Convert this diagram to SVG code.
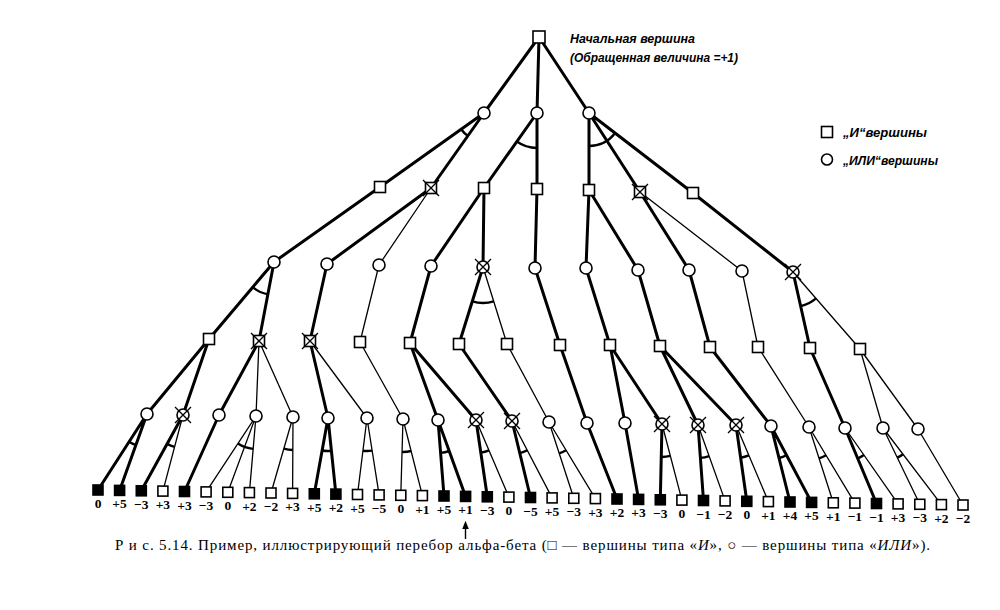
<svg xmlns="http://www.w3.org/2000/svg" width="1000" height="610" viewBox="0 0 1000 610">
<style>
.T{stroke:#000;stroke-width:3;fill:none;stroke-linecap:round}
.t{stroke:#000;stroke-width:1.3;fill:none}
.arc{stroke:#000;stroke-width:2.4;fill:none}
.n{fill:#fff;stroke:#000;stroke-width:1.6}
.f{fill:#000;stroke:#000;stroke-width:1.6}
.x{stroke:#000;stroke-width:1.3}
.v{font-family:"Liberation Serif",serif;font-size:13.5px;font-weight:bold;text-anchor:middle}
.lab{font-family:"Liberation Sans","DejaVu Sans",sans-serif;font-style:italic;font-weight:bold;font-size:12px}
.cap{font-family:"Liberation Serif","DejaVu Serif",serif;font-size:15px}
</style>
<defs>
<marker id="ah" viewBox="0 0 10 10" refX="5" refY="5" markerWidth="6" markerHeight="8" orient="auto"><path d="M0,1 L10,5 L0,9 z" fill="#000"/></marker>
</defs>
<rect width="1000" height="610" fill="#fff"/>
<g id="connectors">
<path class="T" d="M539,37L484,113M539,37L537,113M539,37L589,113"/>
<path class="T" d="M484,113L380,187M484,113L431,188M537,113L484,188M537,113L537,189M589,113L589,190M589,113L640,192M589,113L693,193"/>
<path class="T" d="M380,187L274,262M431,188L327,264M484,188L431,266M484,188L483,267M537,189L535,268M589,190L586,268M589,190L638,270M640,192L689,270M693,193L793,272"/>
<path class="t" d="M431,188L379,265M640,192L742,271"/>
<path class="T" d="M274,262L209,339M274,262L259,341M327,264L310,341M431,266L410,343M483,267L459,344M535,268L560,345M586,268L610,345M638,270L660,346M689,270L710,347M793,272L810,348"/>
<path class="t" d="M379,265L360,342M483,267L507,344M742,271L758,347M793,272L860,349"/>
<path class="T" d="M209,339L147,414M209,339L183,415M259,341L219,415M310,341L328,418M410,343L438,420M410,343L476,420M459,344L512,421M560,345L587,423M610,345L625,423M610,345L662,424M660,346L698,425M660,346L736,425M710,347L771,426M810,348L845,428"/>
<path class="t" d="M259,341L256,416M259,341L293,417M310,341L367,418M360,342L403,419M507,344L549,422M758,347L809,427M860,349L883,428M860,349L918,429"/>
<path class="T" d="M147,414L98,490M147,414L119.6,490.4M183,415L141.3,490.8M219,415L184.5,491.5M328,418L314.3,493.8M328,418L335.9,494.1M438,420L444,496M438,420L465.6,496.4M476,420L487.3,496.8M512,421L530.5,497.5M587,423L617,499M625,423L638.6,499.4M662,424L660.3,499.8M698,425L703.5,500.5M736,425L746.8,501.3M771,426L790,502M771,426L811.6,502.4M845,428L876.5,503.5"/>
<path class="t" d="M183,415L162.9,491.1M256,416L206.1,491.9M256,416L227.8,492.3M256,416L249.4,492.6M293,417L271,493M293,417L292.6,493.4M367,418L357.5,494.5M367,418L379.1,494.9M403,419L400.8,495.3M403,419L422.4,495.6M476,420L508.9,497.1M512,421L552.1,497.9M549,422L573.8,498.3M549,422L595.4,498.6M662,424L681.9,500.1M698,425L725.1,500.9M736,425L768.4,501.6M809,427L833.3,502.8M809,427L854.9,503.1M845,428L898.1,503.9M883,428L919.8,504.3M883,428L941.4,504.6M918,429L963,505"/>
<g id="arcs">
<path class="arc" d="M461.2,129.2A28,28 0 0 0 467.8,135.9"/>
<path class="arc" d="M516.8,141.6A35,35 0 0 0 537,148"/>
<path class="arc" d="M589,146A33,33 0 0 0 615.2,133.1"/>
<path class="arc" d="M252.7,287.2A33,33 0 0 0 267.8,294.4"/>
<path class="arc" d="M472.3,301.4A36,36 0 0 0 493.7,301.4"/>
<path class="arc" d="M800.6,306.2A35,35 0 0 0 816,298.4"/>
<path class="arc" d="M129.1,441.7A33,33 0 0 0 135.9,445.1"/>
<path class="arc" d="M167.1,443.9A33,33 0 0 0 174.6,446.9"/>
<path class="arc" d="M237.9,443.6A33,33 0 0 0 253.2,448.9"/>
<path class="arc" d="M283.8,448.7A33,33 0 0 0 292.8,450"/>
<path class="arc" d="M322.1,450.5A33,33 0 0 0 331.4,450.8"/>
<path class="arc" d="M362.9,450.7A33,33 0 0 0 372.1,450.6"/>
<path class="arc" d="M402,452A33,33 0 0 0 411.1,451"/>
<path class="arc" d="M440.6,452.9A33,33 0 0 0 449.2,451"/>
<path class="arc" d="M480.8,452.6A33,33 0 0 0 489,450.4"/>
<path class="arc" d="M519.8,453.1A33,33 0 0 0 527.3,450.3"/>
<path class="arc" d="M559.2,453.4A33,33 0 0 0 566.1,450.2"/>
<path class="arc" d="M661.3,457A33,33 0 0 0 670.3,455.9"/>
<path class="arc" d="M700.4,457.9A33,33 0 0 0 709.1,456.1"/>
<path class="arc" d="M740.6,457.7A33,33 0 0 0 748.8,455.4"/>
<path class="arc" d="M779,458A33,33 0 0 0 786.4,455.2"/>
<path class="arc" d="M819,458.4A33,33 0 0 0 826,455.3"/>
<path class="arc" d="M857.6,458.5A33,33 0 0 0 863.9,455.1"/>
<path class="arc" d="M897.3,457.7A33,33 0 0 0 903,454.3"/>
</g>
</g>
<g id="root"><rect class="n" x="533" y="31" width="12" height="12"/></g>
<g id="l1a"><circle class="n" cx="484" cy="113" r="6"/></g>
<g id="l1b"><circle class="n" cx="537" cy="113" r="6"/></g>
<g id="l1c"><circle class="n" cx="589" cy="113" r="6"/></g>
<g id="l2a"><rect class="n" x="374.5" y="181.5" width="11" height="11"/></g>
<g id="l2b"><rect class="n" x="425.5" y="182.5" width="11" height="11"/><path class="x" d="M423,180L439,196M423,196L439,180"/></g>
<g id="l2c"><rect class="n" x="478.5" y="182.5" width="11" height="11"/></g>
<g id="l2d"><rect class="n" x="531.5" y="183.5" width="11" height="11"/></g>
<g id="l2e"><rect class="n" x="583.5" y="184.5" width="11" height="11"/></g>
<g id="l2f"><rect class="n" x="634.5" y="186.5" width="11" height="11"/><path class="x" d="M632,184L648,200M632,200L648,184"/></g>
<g id="l2g"><rect class="n" x="687.5" y="187.5" width="11" height="11"/></g>
<g id="l3a"><circle class="n" cx="274" cy="262" r="6"/></g>
<g id="l3b"><circle class="n" cx="327" cy="264" r="6"/></g>
<g id="l3c"><circle class="n" cx="379" cy="265" r="6"/></g>
<g id="l3d"><circle class="n" cx="431" cy="266" r="6"/></g>
<g id="l3e"><circle class="n" cx="483" cy="267" r="6"/><path class="x" d="M475,259L491,275M475,275L491,259"/></g>
<g id="l3f"><circle class="n" cx="535" cy="268" r="6"/></g>
<g id="l3g"><circle class="n" cx="586" cy="268" r="6"/></g>
<g id="l3h"><circle class="n" cx="638" cy="270" r="6"/></g>
<g id="l3i"><circle class="n" cx="689" cy="270" r="6"/></g>
<g id="l3j"><circle class="n" cx="742" cy="271" r="6"/></g>
<g id="l3k"><circle class="n" cx="793" cy="272" r="6"/><path class="x" d="M785,264L801,280M785,280L801,264"/></g>
<g id="l4a"><rect class="n" x="203.5" y="333.5" width="11" height="11"/></g>
<g id="l4b"><rect class="n" x="253.5" y="335.5" width="11" height="11"/><path class="x" d="M251,333L267,349M251,349L267,333"/></g>
<g id="l4c"><rect class="n" x="304.5" y="335.5" width="11" height="11"/><path class="x" d="M302,333L318,349M302,349L318,333"/></g>
<g id="l4d"><rect class="n" x="354.5" y="336.5" width="11" height="11"/></g>
<g id="l4e"><rect class="n" x="404.5" y="337.5" width="11" height="11"/></g>
<g id="l4f"><rect class="n" x="453.5" y="338.5" width="11" height="11"/></g>
<g id="l4g"><rect class="n" x="501.5" y="338.5" width="11" height="11"/></g>
<g id="l4h"><rect class="n" x="554.5" y="339.5" width="11" height="11"/></g>
<g id="l4i"><rect class="n" x="604.5" y="339.5" width="11" height="11"/></g>
<g id="l4j"><rect class="n" x="654.5" y="340.5" width="11" height="11"/></g>
<g id="l4k"><rect class="n" x="704.5" y="341.5" width="11" height="11"/></g>
<g id="l4l"><rect class="n" x="752.5" y="341.5" width="11" height="11"/></g>
<g id="l4m"><rect class="n" x="804.5" y="342.5" width="11" height="11"/></g>
<g id="l4n"><rect class="n" x="854.5" y="343.5" width="11" height="11"/></g>
<g id="l5a"><circle class="n" cx="147" cy="414" r="6"/></g>
<g id="l5b"><circle class="n" cx="183" cy="415" r="6"/><path class="x" d="M175,407L191,423M175,423L191,407"/></g>
<g id="l5c"><circle class="n" cx="219" cy="415" r="6"/></g>
<g id="l5d"><circle class="n" cx="256" cy="416" r="6"/></g>
<g id="l5e"><circle class="n" cx="293" cy="417" r="6"/></g>
<g id="l5f"><circle class="n" cx="328" cy="418" r="6"/></g>
<g id="l5g"><circle class="n" cx="367" cy="418" r="6"/></g>
<g id="l5h"><circle class="n" cx="403" cy="419" r="6"/></g>
<g id="l5i"><circle class="n" cx="438" cy="420" r="6"/></g>
<g id="l5j"><circle class="n" cx="476" cy="420" r="6"/><path class="x" d="M468,412L484,428M468,428L484,412"/></g>
<g id="l5k"><circle class="n" cx="512" cy="421" r="6"/><path class="x" d="M504,413L520,429M504,429L520,413"/></g>
<g id="l5l"><circle class="n" cx="549" cy="422" r="6"/></g>
<g id="l5m"><circle class="n" cx="587" cy="423" r="6"/></g>
<g id="l5n"><circle class="n" cx="625" cy="423" r="6"/></g>
<g id="l5o"><circle class="n" cx="662" cy="424" r="6"/><path class="x" d="M654,416L670,432M654,432L670,416"/></g>
<g id="l5p"><circle class="n" cx="698" cy="425" r="6"/><path class="x" d="M690,417L706,433M690,433L706,417"/></g>
<g id="l5q"><circle class="n" cx="736" cy="425" r="6"/><path class="x" d="M728,417L744,433M728,433L744,417"/></g>
<g id="l5r"><circle class="n" cx="771" cy="426" r="6"/></g>
<g id="l5s"><circle class="n" cx="809" cy="427" r="6"/></g>
<g id="l5t"><circle class="n" cx="845" cy="428" r="6"/></g>
<g id="l5u"><circle class="n" cx="883" cy="428" r="6"/></g>
<g id="l5v"><circle class="n" cx="918" cy="429" r="6"/></g>
<g id="leaf1"><rect class="f" x="93" y="485" width="10" height="10"/><text class="v" x="98" y="508">0</text></g>
<g id="leaf2"><rect class="f" x="114.6" y="485.4" width="10" height="10"/><text class="v" x="119.6" y="508.4">+5</text></g>
<g id="leaf3"><rect class="f" x="136.3" y="485.8" width="10" height="10"/><text class="v" x="141.3" y="508.8">−3</text></g>
<g id="leaf4"><rect class="n" x="157.9" y="486.1" width="10" height="10"/><text class="v" x="162.9" y="509.1">+3</text></g>
<g id="leaf5"><rect class="f" x="179.5" y="486.5" width="10" height="10"/><text class="v" x="184.5" y="509.5">+3</text></g>
<g id="leaf6"><rect class="n" x="201.1" y="486.9" width="10" height="10"/><text class="v" x="206.1" y="509.9">−3</text></g>
<g id="leaf7"><rect class="n" x="222.8" y="487.3" width="10" height="10"/><text class="v" x="227.8" y="510.3">0</text></g>
<g id="leaf8"><rect class="n" x="244.4" y="487.6" width="10" height="10"/><text class="v" x="249.4" y="510.6">+2</text></g>
<g id="leaf9"><rect class="n" x="266" y="488" width="10" height="10"/><text class="v" x="271" y="511">−2</text></g>
<g id="leaf10"><rect class="n" x="287.6" y="488.4" width="10" height="10"/><text class="v" x="292.6" y="511.4">+3</text></g>
<g id="leaf11"><rect class="f" x="309.3" y="488.8" width="10" height="10"/><text class="v" x="314.3" y="511.8">+5</text></g>
<g id="leaf12"><rect class="f" x="330.9" y="489.1" width="10" height="10"/><text class="v" x="335.9" y="512.1">+2</text></g>
<g id="leaf13"><rect class="n" x="352.5" y="489.5" width="10" height="10"/><text class="v" x="357.5" y="512.5">+5</text></g>
<g id="leaf14"><rect class="n" x="374.1" y="489.9" width="10" height="10"/><text class="v" x="379.1" y="512.9">−5</text></g>
<g id="leaf15"><rect class="n" x="395.8" y="490.3" width="10" height="10"/><text class="v" x="400.8" y="513.3">0</text></g>
<g id="leaf16"><rect class="n" x="417.4" y="490.6" width="10" height="10"/><text class="v" x="422.4" y="513.6">+1</text></g>
<g id="leaf17"><rect class="f" x="439" y="491" width="10" height="10"/><text class="v" x="444" y="514">+5</text></g>
<g id="leaf18"><rect class="f" x="460.6" y="491.4" width="10" height="10"/><text class="v" x="465.6" y="514.4">+1</text></g>
<g id="leaf19"><rect class="f" x="482.3" y="491.8" width="10" height="10"/><text class="v" x="487.3" y="514.8">−3</text></g>
<g id="leaf20"><rect class="n" x="503.9" y="492.1" width="10" height="10"/><text class="v" x="508.9" y="515.1">0</text></g>
<g id="leaf21"><rect class="f" x="525.5" y="492.5" width="10" height="10"/><text class="v" x="530.5" y="515.5">−5</text></g>
<g id="leaf22"><rect class="n" x="547.1" y="492.9" width="10" height="10"/><text class="v" x="552.1" y="515.9">+5</text></g>
<g id="leaf23"><rect class="n" x="568.8" y="493.3" width="10" height="10"/><text class="v" x="573.8" y="516.3">−3</text></g>
<g id="leaf24"><rect class="n" x="590.4" y="493.6" width="10" height="10"/><text class="v" x="595.4" y="516.6">+3</text></g>
<g id="leaf25"><rect class="f" x="612" y="494" width="10" height="10"/><text class="v" x="617" y="517">+2</text></g>
<g id="leaf26"><rect class="f" x="633.6" y="494.4" width="10" height="10"/><text class="v" x="638.6" y="517.4">+3</text></g>
<g id="leaf27"><rect class="f" x="655.3" y="494.8" width="10" height="10"/><text class="v" x="660.3" y="517.8">−3</text></g>
<g id="leaf28"><rect class="n" x="676.9" y="495.1" width="10" height="10"/><text class="v" x="681.9" y="518.1">0</text></g>
<g id="leaf29"><rect class="f" x="698.5" y="495.5" width="10" height="10"/><text class="v" x="703.5" y="518.5">−1</text></g>
<g id="leaf30"><rect class="n" x="720.1" y="495.9" width="10" height="10"/><text class="v" x="725.1" y="518.9">−2</text></g>
<g id="leaf31"><rect class="f" x="741.8" y="496.3" width="10" height="10"/><text class="v" x="746.8" y="519.3">0</text></g>
<g id="leaf32"><rect class="n" x="763.4" y="496.6" width="10" height="10"/><text class="v" x="768.4" y="519.6">+1</text></g>
<g id="leaf33"><rect class="f" x="785" y="497" width="10" height="10"/><text class="v" x="790" y="520">+4</text></g>
<g id="leaf34"><rect class="f" x="806.6" y="497.4" width="10" height="10"/><text class="v" x="811.6" y="520.4">+5</text></g>
<g id="leaf35"><rect class="n" x="828.3" y="497.8" width="10" height="10"/><text class="v" x="833.3" y="520.8">+1</text></g>
<g id="leaf36"><rect class="n" x="849.9" y="498.1" width="10" height="10"/><text class="v" x="854.9" y="521.1">−1</text></g>
<g id="leaf37"><rect class="f" x="871.5" y="498.5" width="10" height="10"/><text class="v" x="876.5" y="521.5">−1</text></g>
<g id="leaf38"><rect class="n" x="893.1" y="498.9" width="10" height="10"/><text class="v" x="898.1" y="521.9">+3</text></g>
<g id="leaf39"><rect class="n" x="914.8" y="499.3" width="10" height="10"/><text class="v" x="919.8" y="522.3">−3</text></g>
<g id="leaf40"><rect class="n" x="936.4" y="499.6" width="10" height="10"/><text class="v" x="941.4" y="522.6">+2</text></g>
<g id="leaf41"><rect class="n" x="958" y="500" width="10" height="10"/><text class="v" x="963" y="523">−2</text></g>
<g id="arrow"><line x1="465.5" y1="539" x2="465.5" y2="525" stroke="#000" stroke-width="1.4" marker-end="url(#ah)"/></g>
<g id="start-label">
<text class="lab" x="570" y="43" textLength="125" lengthAdjust="spacingAndGlyphs">Начальная вершина</text>
<text class="lab" x="570" y="62" textLength="168" lengthAdjust="spacingAndGlyphs">(Обращенная величина =+1)</text>
</g>
<g id="legend">
<rect class="n" x="821.5" y="126.5" width="11" height="11"/>
<text class="lab" x="843" y="137" textLength="84" lengthAdjust="spacingAndGlyphs">„И“вершины</text>
<circle class="n" cx="827" cy="159.5" r="5.5"/>
<text class="lab" x="843" y="165" textLength="95" lengthAdjust="spacingAndGlyphs">„ИЛИ“вершины</text>
</g>
<text class="cap" x="115" y="550" textLength="815" lengthAdjust="spacing">Р и с.  5.14. Пример, иллюстрирующий перебор альфа-бета (□ — вершины типа «<tspan font-style="italic">И</tspan>», ○ — вершины типа «<tspan font-style="italic">ИЛИ</tspan>»).</text>
</svg>
